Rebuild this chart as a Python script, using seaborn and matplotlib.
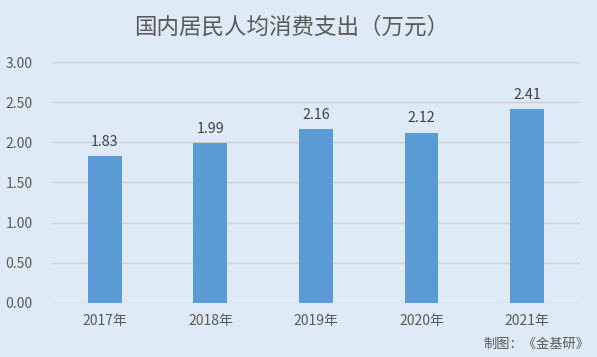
import pandas as pd
import seaborn as sns
import matplotlib.pyplot as plt

years = ['2017年', '2018年', '2019年', '2020年', '2021年']
spending = [1.83, 1.99, 2.16, 2.12, 2.41]

df = pd.DataFrame({'year': years, 'value': spending})

bg = '#deeaf6'
grey = '#595959'

sns.set_style('white')
plt.rcParams['font.family'] = ['Noto Sans CJK SC', 'DejaVu Sans']

fig = plt.figure(figsize=(5.97, 3.57), dpi=100, facecolor=bg)
ax = fig.add_axes([0.0871, 0.1513, 0.8844, 0.675])
ax.set_facecolor(bg)

sns.barplot(data=df, x='year', y='value', color='#5b9bd5', width=0.32,
            saturation=1, edgecolor='none', linewidth=0, ax=ax, zorder=3)

# 数据标签
for i, v in enumerate(spending):
    ax.text(i, v + 0.09, f'{v:.2f}', ha='center', va='bottom',
            fontsize=10.3, color='#404040')

ax.set_ylim(0, 3)
ax.set_xlim(-0.5, 4.5)
ax.set_yticks([0, 0.5, 1, 1.5, 2, 2.5, 3])
ax.set_yticklabels([f'{t:.2f}' for t in ax.get_yticks()])
ax.yaxis.grid(True, color='#d0d0d0', linewidth=1, zorder=0)
ax.set_axisbelow(True)
ax.tick_params(axis='both', length=0, labelsize=10, colors=grey)
ax.tick_params(axis='y', pad=14)
ax.tick_params(axis='x', pad=8)
ax.set_xlabel('')
ax.set_ylabel('')
sns.despine(ax=ax, left=True, bottom=True)

fig.text(0.488, 0.924, '国内居民人均消费支出（万元）', ha='center', va='center',
         fontsize=16.2, color=grey)
fig.text(0.988, 0.035, '制图：《金基研》', ha='right', va='center',
         fontsize=9.5, color=grey)

plt.savefig('out.png', dpi=100, facecolor=bg)
